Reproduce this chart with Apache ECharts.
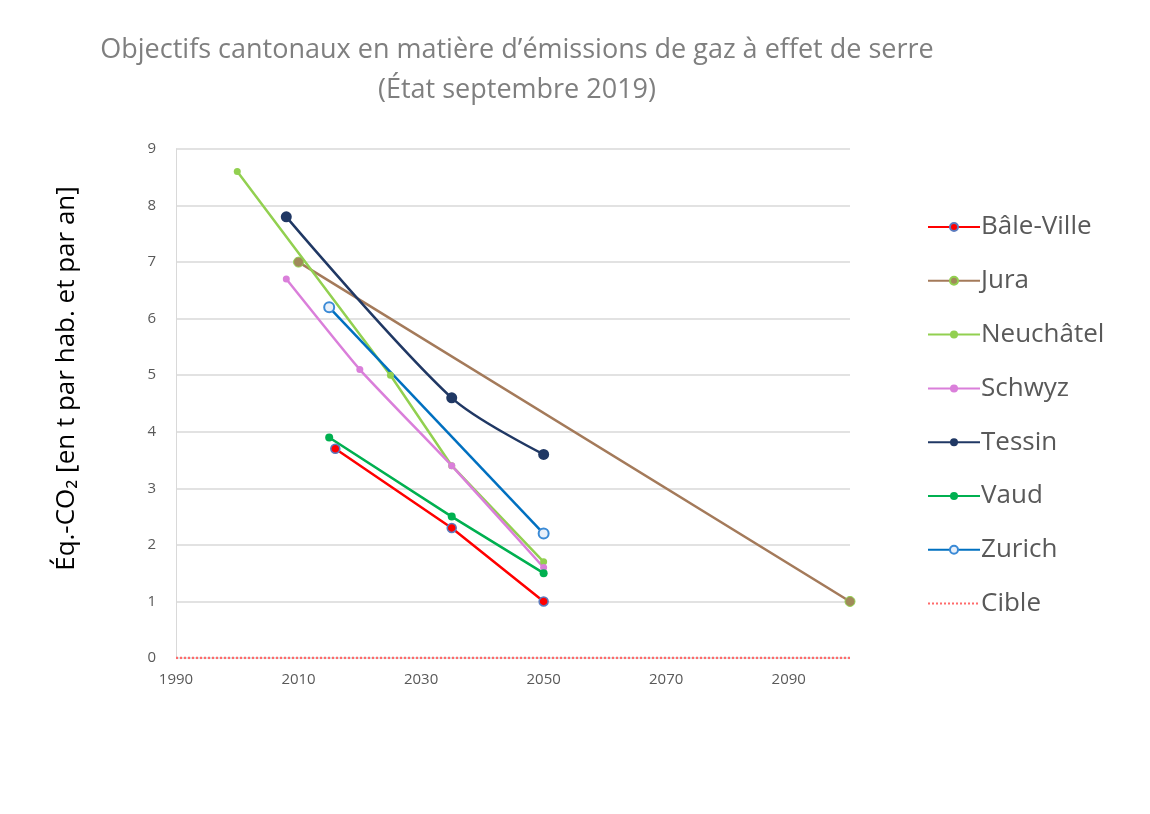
<!DOCTYPE html>
<html>
<head>
<meta charset="utf-8">
<script src="https://cdn.jsdelivr.net/npm/echarts@6/dist/echarts.min.js"></script>
<style>
  html, body { margin: 0; padding: 0; background: #fff; }
  #chart { width: 1150px; height: 814px; }
</style>
</head>
<body>
<div id="chart"></div>
<script>
// valeurs [année, t éq.-CO2 par hab.]
const baleVille = [[2016, 3.7], [2035, 2.3], [2050, 1.0]]
const jura = [[2010, 7.0], [2100, 1.0]]
const neuchatel = [[2000, 8.6], [2025, 5.0], [2035, 3.4], [2050, 1.7]]
const schwyz = [[2008, 6.7], [2020, 5.1], [2035, 3.4], [2050, 1.6]]
const tessin = [[2008, 7.8], [2035, 4.6], [2050, 3.6]]
const vaud = [[2015, 3.9], [2035, 2.5], [2050, 1.5]]
const zurich = [[2015, 6.2], [2050, 2.2]]
const cible = [[1990, 0], [2100, 0]]

const seriesNames = ['Bâle-Ville', 'Jura', 'Neuchâtel', 'Schwyz', 'Tessin', 'Vaud', 'Zurich', 'Cible']

const chart = echarts.init(document.getElementById('chart'))

const font = '"Open Sans", "DejaVu Sans", sans-serif'

function lineSeries(name, data, color, opts) {
  return Object.assign({
    name,
    type: 'line',
    data,
    symbol: 'circle',
    symbolSize: 8,
    lineStyle: { color, width: 2.5 },
    itemStyle: { color },
    z: 3,
  }, opts || {})
}

chart.setOption({
  animation: false,
  textStyle: { fontFamily: font },
  title: {
    text: 'Objectifs cantonaux en matière d’émissions de gaz à effet de serre\n(État septembre 2019)',
    left: 512,
    top: 25,
    textAlign: 'center',
    textStyle: {
      fontSize: 27,
      fontWeight: 'normal',
      color: '#7f7f7f',
      lineHeight: 40,
      fontFamily: font,
    },
  },
  grid: {
    left: 176,
    right: 300,
    top: 149,
    bottom: 156,
  },
  legend: {
    orient: 'vertical',
    left: 922,
    top: 209,
    itemWidth: 52,
    itemHeight: 10,
    itemGap: 27.8,
    textStyle: { fontSize: 26, color: '#595959', fontFamily: font, padding: [0, 0, 0, -4] },
    data: seriesNames.map(n => n === 'Cible' ? { name: n, itemStyle: { opacity: 0 } } : n),
  },
  xAxis: {
    type: 'value',
    min: 1990,
    max: 2100,
    interval: 20,
    axisLine: { show: false },
    axisTick: { show: false },
    splitLine: { show: false },
    axisLabel: {
      color: '#595959',
      fontSize: 15,
      margin: 14,
      showMaxLabel: false,
      formatter: v => String(v),
    },
  },
  yAxis: {
    type: 'value',
    min: 0,
    max: 9,
    interval: 1,
    name: 'Éq.-CO₂ [en t par hab. et par an]',
    nameLocation: 'middle',
    nameGap: 96,
    nameTextStyle: { fontSize: 26, color: '#000', fontFamily: font, padding: [0, 0, 0, 50] },
    axisLine: { show: true, lineStyle: { color: '#d9d9d9', width: 1 } },
    axisTick: { show: false },
    splitLine: { lineStyle: { color: '#d9d9d9', width: 1.5 } },
    axisLabel: { color: '#595959', fontSize: 15, margin: 20 },
  },
  series: [
    lineSeries('Bâle-Ville', baleVille, '#ff0000', {
      symbolSize: 9,
      itemStyle: { color: '#ff0000', borderColor: '#5b7bbf', borderWidth: 1.5 },
    }),
    lineSeries('Jura', jura, '#a47a5a', {
      symbolSize: 10,
      itemStyle: { color: '#a08a5a', borderColor: '#92d050', borderWidth: 1 },
    }),
    lineSeries('Neuchâtel', neuchatel, '#92d050', { symbolSize: 7 }),
    lineSeries('Schwyz', schwyz, '#da7fda', { symbolSize: 7, smooth: 0.15 }),
    lineSeries('Tessin', tessin, '#203864', { symbolSize: 11, smooth: 0.3 }),
    lineSeries('Vaud', vaud, '#00b050', { symbolSize: 8 }),
    lineSeries('Zurich', zurich, '#0070c0', {
      symbolSize: 10,
      itemStyle: { color: '#e8f0fa', borderColor: '#3a8ad6', borderWidth: 2 },
    }),
    {
      name: 'Cible',
      type: 'line',
      data: cible,
      symbol: 'none',
      lineStyle: { color: '#ff6b6b', width: 2.5, type: [2, 2] },
      itemStyle: { color: '#ff6b6b' },
      z: 2,
    },
  ],
})
</script>
</body>
</html>
